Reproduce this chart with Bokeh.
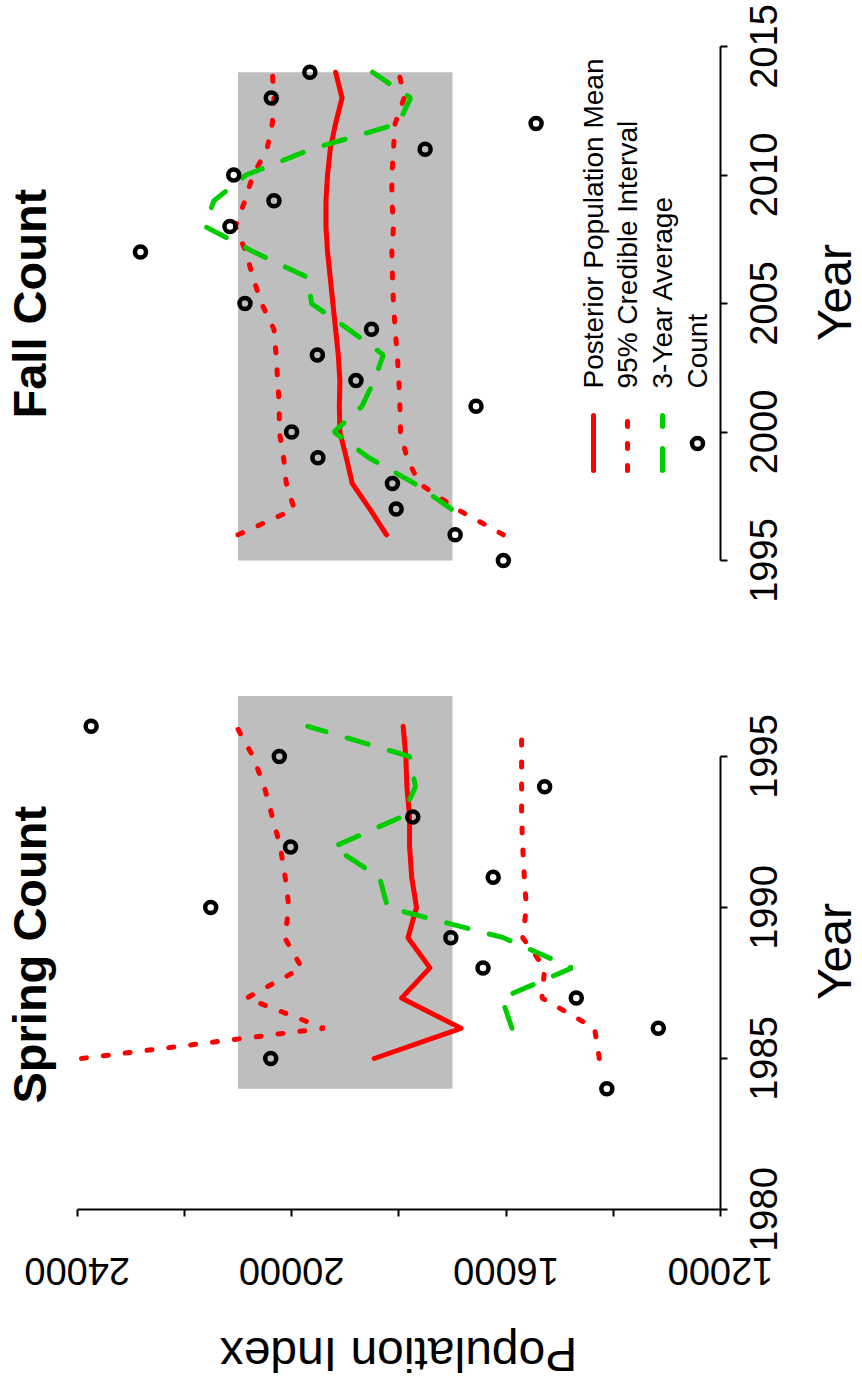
import math
from bokeh.plotting import figure
from bokeh.models import Range1d, FixedTicker, Label, LinearAxis
from bokeh.core.properties import value
from bokeh.embed import file_html
from bokeh.resources import INLINE

# ---------------- data ----------------
spring_count_years = [1984, 1985, 1986, 1987, 1988, 1989, 1990, 1991, 1992, 1993, 1994, 1995, 1996]
spring_count = [14120, 20390, 13160, 14690, 16430, 17030, 21510, 16240, 20020, 17740, 15280, 20230, 23740]

spring_model_years = [1985, 1986, 1987, 1988, 1989, 1990, 1991, 1992, 1993, 1994, 1995, 1996]
spring_mean = [18460, 16840, 17950, 17420, 17830, 17670, 17760, 17800, 17800, 17850, 17870, 17920]
spring_upper = [23920, 19390, 20840, 19810, 20130, 20050, 20120, 20210, 20360, 20510, 20720, 21030]
spring_lower = [14260, 14350, 15330, 15280, 15690, 15620, 15660, 15690, 15710, 15710, 15710, 15710]

spring_avg_years = [1986, 1987, 1988, 1989, 1990, 1991, 1992, 1993, 1994, 1995, 1996]
spring_avg3 = [15890, 16080, 14770, 16050, 18210, 18360, 19230, 17950, 17690, 17800, 19700]

spring_box_years = [1984, 1997]
fall_box_years = [1995, 2014]
box_pop = [17000, 21000]

fall_count_years = [1995, 1996, 1997, 1998, 1999, 2000, 2001, 2002, 2003, 2004, 2005,
                    2007, 2008, 2009, 2010, 2011, 2012, 2013, 2014]
fall_count = [16050, 16950, 18050, 18120, 19510, 20000, 16560, 18800, 19520, 18510, 20870,
              22820, 21150, 20330, 21080, 17510, 15440, 20380, 19660]

fall_model_years = [1996, 1997, 1998, 1999, 2000, 2001, 2002, 2003, 2004, 2005,
                    2006, 2007, 2008, 2009, 2010, 2011, 2012, 2013, 2014]
fall_mean = [18230, 18540, 18870, 18980, 19100, 19110, 19100, 19130, 19180, 19230,
             19280, 19330, 19360, 19360, 19330, 19280, 19180, 19060, 19180]
fall_upper = [21000, 19950, 20100, 20150, 20230, 20230, 20260, 20290, 20330, 20560,
              20720, 20850, 21050, 20870, 20720, 20460, 20360, 20330, 20360]
fall_lower = [16050, 16920, 17620, 17850, 17970, 17980, 18000, 18030, 18070, 18100,
              18120, 18130, 18100, 18130, 18130, 18100, 18070, 17900, 18000]

fall_avg_years = [1997, 1998, 1999, 2000, 2001, 2002, 2003, 2004, 2005, 2006,
                  2007, 2008, 2009, 2010, 2011, 2012, 2013, 2014]
fall_avg3 = [17020, 17710, 18560, 19210, 18690, 18460, 18290, 18940, 19630, 19690,
             20700, 21620, 21450, 20850, 19640, 18010, 17780, 18490]

pop_ticks = [12000, 14000, 16000, 18000, 20000, 22000, 24000]
pop_tick_labels = ["12000", "", "16000", "", "20000", "", "24000"]
spring_year_ticks = [1980, 1985, 1990, 1995]
spring_year_labels = ["1980", "1985", "1990", "1995"]
fall_year_ticks = [1995, 2000, 2005, 2010, 2015]
fall_year_labels = ["1995", "2000", "2005", "2010", "2015"]

legend_items = ["Posterior Population Mean", "95% Credible Interval", "3-Year Average", "Count"]

# ---------------- layout (page pixels) ----------------
FONT = "Liberation Sans"
RED = "#FF0000"
GREEN = "#00CD00"
GRAY = "#BEBEBE"
LW = 5
DOT = "5 17"
DASH = "22 22"
PT_SIZE = 11
PT_LW = 4.5
SHIFT = 0.38     # baseline correction, fraction of font size

W, H = 862, 1384
X24 = 76.7       # page x of 24000
X12 = 720.0      # page x of 12000
K = (X12 - X24) / 12000.0

def px_pop(x):
    return 24000 - (x - X24) / K

F_Y1995, F_PPY = 560.0, 25.7     # fall: page y of 1995, pixels per year
S_Y1980, S_PPY = 1209.0, 30.2    # spring: page y of 1980, pixels per year

def fy(y):
    return 1995 + (F_Y1995 - y) / F_PPY

def sy(y):
    return 1980 + (S_Y1980 - y) / S_PPY

# vertical-text baseline x (page px) -> anchor x in data units
def vx(x_base, fs):
    return px_pop(x_base - SHIFT * fs)


p = figure(width=W, height=H,
           x_range=Range1d(px_pop(0), px_pop(W)),
           y_range=Range1d(sy(H), sy(0)),
           output_backend="svg", toolbar_location=None, title=None,
           x_axis_location=None, y_axis_location=None,
           min_border=0, min_border_left=0, min_border_right=0,
           min_border_top=0, min_border_bottom=0)
p.extra_y_ranges = {"fall": Range1d(fy(H), fy(0))}
p.outline_line_color = None
p.xgrid.visible = False
p.ygrid.visible = False
p.background_fill_color = "white"
p.border_fill_color = "white"


def add_axis(side, ticks, bounds, fixed, yname="default"):
    ax = LinearAxis(ticker=FixedTicker(ticks=ticks), bounds=bounds,
                    fixed_location=fixed, y_range_name=yname)
    ax.major_label_overrides = {t: "" for t in ticks}
    ax.major_label_text_font_size = "0px"
    ax.axis_line_color = "black"
    ax.axis_line_width = 2
    ax.major_tick_line_color = "black"
    ax.major_tick_line_width = 2
    ax.major_tick_in = 0
    ax.major_tick_out = 7
    ax.minor_tick_line_color = None
    p.add_layout(ax, side)


def draw_panel(yname, box_years, myears, mean, upper, lower, ayears, avg, cyears, counts):
    p.quad(left=[box_pop[1]], right=[box_pop[0]], bottom=[box_years[0]], top=[box_years[1]],
           fill_color=GRAY, line_color=None, y_range_name=yname)
    p.line(mean, myears, line_color=RED, line_width=LW, line_join="round", line_cap="round",
           y_range_name=yname)
    p.line(upper, myears, line_color=RED, line_width=LW, line_dash=DOT, line_cap="round",
           y_range_name=yname)
    p.line(lower, myears, line_color=RED, line_width=LW, line_dash=DOT, line_cap="round",
           y_range_name=yname)
    p.line(avg, ayears, line_color=GREEN, line_width=LW, line_dash=DASH, line_cap="round",
           y_range_name=yname)
    p.scatter(counts, cyears, marker="circle", size=PT_SIZE, fill_color=None,
              line_color="black", line_width=PT_LW, y_range_name=yname)


def label(x, y, text, size, angle, align="left", bold=False, yname="default"):
    p.add_layout(Label(x=x, y=y, text=text, angle=angle, text_align=align,
                       text_baseline="alphabetic", text_font=FONT,
                       text_font_size=f"{size}px",
                       text_font_style="bold" if bold else "normal",
                       text_color="black", y_range_name=yname))


def tick_labels(xs, ys, texts, angle, yname="default"):
    p.text(x=xs, y=ys, text=texts, angle=angle, text_align="center",
           text_baseline="alphabetic", text_font=value(FONT), text_font_size="38px",
           text_color="black", y_range_name=yname)


# ---------------- fall panel ----------------
draw_panel("fall", fall_box_years, fall_model_years, fall_mean, fall_upper, fall_lower,
           fall_avg_years, fall_avg3, fall_count_years, fall_count)
add_axis("right", fall_year_ticks, (1995, 2015), 12000, "fall")
tick_labels([vx(777, 38)] * len(fall_year_ticks), fall_year_ticks, fall_year_labels,
            math.pi / 2, "fall")
label(vx(47, 47), fy(418), "Fall Count", 47, math.pi / 2, bold=True, yname="fall")
label(vx(852, 48), fy(292), "Year", 48, math.pi / 2, align="center", yname="fall")

# legend (rotated, drawn by hand)
leg_x = [593, 627, 662, 697]
p.line([px_pop(leg_x[0])] * 2, [fy(470), fy(415)], line_color=RED, line_width=LW,
       line_cap="round", y_range_name="fall")
p.line([px_pop(leg_x[1])] * 2, [fy(470), fy(415)], line_color=RED, line_width=LW,
       line_dash=DOT, line_cap="round", y_range_name="fall")
p.line([px_pop(leg_x[2])] * 2, [fy(470), fy(415)], line_color=GREEN, line_width=LW,
       line_dash=DASH, line_cap="round", y_range_name="fall")
p.scatter([px_pop(leg_x[3])], [fy(443)], marker="circle", size=PT_SIZE, fill_color=None,
          line_color="black", line_width=PT_LW, y_range_name="fall")
for lx, txt in zip(leg_x, legend_items):
    label(vx(lx + 10.5, 28), fy(388), txt, 28, math.pi / 2, yname="fall")

# ---------------- spring panel ----------------
draw_panel("default", spring_box_years, spring_model_years, spring_mean, spring_upper,
           spring_lower, spring_avg_years, spring_avg3, spring_count_years, spring_count)
add_axis("right", spring_year_ticks, (1980, 1995), 12000)
add_axis("below", pop_ticks, (12000, 24000), 1980)
tick_labels([vx(777, 38)] * len(spring_year_ticks), spring_year_ticks, spring_year_labels,
            math.pi / 2)
pop_lab_x = [t for t, s in zip(pop_ticks, pop_tick_labels) if s]
pop_lab_t = [s for s in pop_tick_labels if s]
tick_labels(pop_lab_x, [sy(1257 + SHIFT * 38)] * len(pop_lab_x), pop_lab_t, math.pi)
label(vx(47, 47), sy(1103), "Spring Count", 47, math.pi / 2, bold=True)
label(vx(852, 48), sy(951), "Year", 48, math.pi / 2, align="center")
label(px_pop(398), sy(1336 + SHIFT * 48), "Population Index", 48, math.pi, align="center")

open("out.html", "w").write(file_html(p, INLINE))
